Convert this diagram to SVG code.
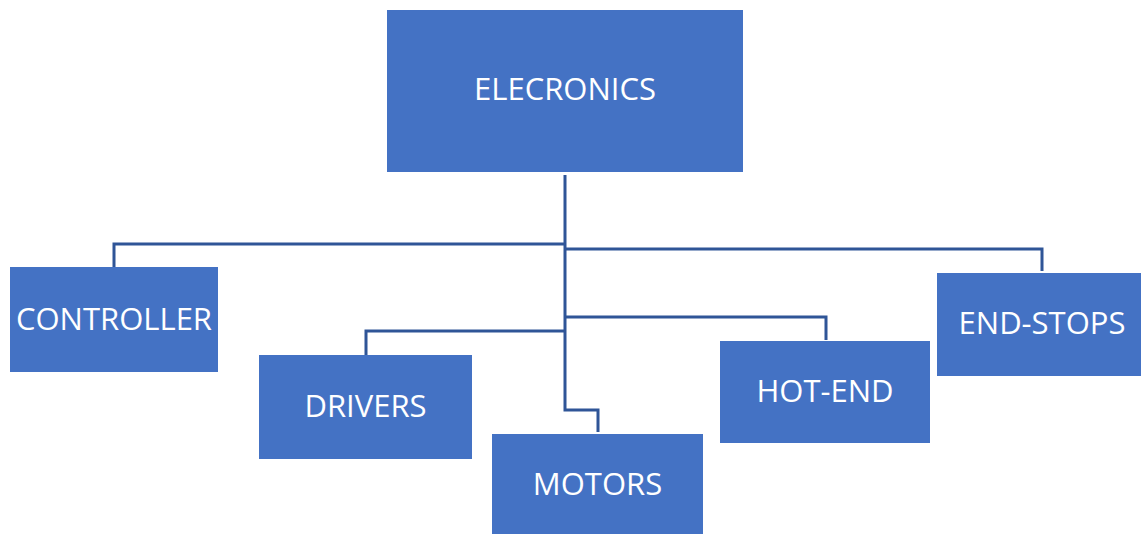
<svg xmlns="http://www.w3.org/2000/svg" width="1141" height="534" viewBox="0 0 1141 534">
<style>
.box{fill:#4472C4;}
.lbl{fill:#FFFFFF;font-family:"Open Sans","Liberation Sans",sans-serif;font-size:31px;text-anchor:middle;}
.conn{fill:none;stroke:#2F5597;stroke-width:3;}
</style>
<rect width="1141" height="534" fill="#FFFFFF"/>
<g id="connectors">
<path class="conn" d="M565,175 V410 H598 V432"/>
<path class="conn" d="M565,244 H114 V267"/>
<path class="conn" d="M565,249 H1042 V271"/>
<path class="conn" d="M565,331 H366 V355"/>
<path class="conn" d="M565,317 H826 V340"/>
</g>
<g id="electronics">
<rect class="box" x="387" y="10" width="356" height="162"/>
<text class="lbl" x="565" y="100">ELECRONICS</text>
</g>
<g id="controller">
<rect class="box" x="10" y="267" width="208" height="105"/>
<text class="lbl" x="114" y="330">CONTROLLER</text>
</g>
<g id="drivers">
<rect class="box" x="259" y="355" width="213" height="104"/>
<text class="lbl" x="365.5" y="417">DRIVERS</text>
</g>
<g id="motors">
<rect class="box" x="492" y="434" width="211" height="100"/>
<text class="lbl" x="597.5" y="495">MOTORS</text>
</g>
<g id="hot-end">
<rect class="box" x="720" y="341" width="210" height="102"/>
<text class="lbl" x="825" y="402">HOT-END</text>
</g>
<g id="end-stops">
<rect class="box" x="937" y="273" width="204" height="103"/>
<text class="lbl" x="1042" y="334">END-STOPS</text>
</g>
</svg>
